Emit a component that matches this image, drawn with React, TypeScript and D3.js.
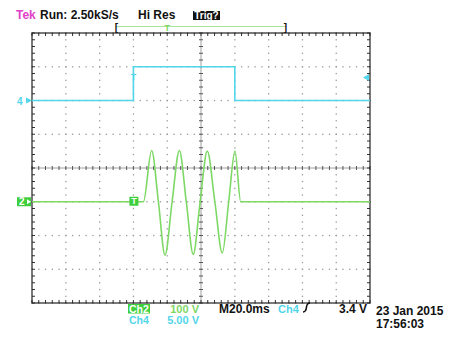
import React from 'react';
import * as d3 from 'd3';

// Ch2 trace (green): time in ms, volts (100 V/div)
const ch2Time = [-100, -34.1, -29.2, -25.2, -21.3, -17.1, -12.8, -8.7, -4.6, -0.5, 3.7, 8.2, 12.6, 16.4, 20.1, 23.5, 100];
const ch2Volts = [0, 0, 152, 0, -158, 0, 152, 0, -156, 0, 150, 0, -152, 0, 150, 0, 0];

// Ch4 trace (cyan): step levels in volts (5 V/div)
const ch4Time = [-100, -40, 20, 100];
const ch4Volts = [0, 5, 0, 0];

const trigLevel = 3.4;
const trigTime = -40;
const recordStart = -50;
const recordEnd = 50;
const recordTrig = -20;

const GREEN = '#7ed866';
const CYAN = '#52d6ea';
const FONT = '"Liberation Sans", Arial, sans-serif';

const App: React.FC = () => {
  const left = 32, right = 370, top = 33, bottom = 303;
  const x = d3.scaleLinear().domain([-100, 100]).range([left, right]);
  // ch2 offset -1 div, ch4 offset +2 div
  const y2 = d3.scaleLinear().domain([-300, 500]).range([bottom, top]);
  const y4 = d3.scaleLinear().domain([-30, 10]).range([bottom, top]);
  const gy = d3.scaleLinear().domain([-4, 4]).range([bottom, top]);
  const gx = d3.scaleLinear().domain([-5, 5]).range([left, right]);

  const ch2Data = ch2Time.map((t, i) => ({ t, v: ch2Volts[i] }));
  const ch4Data = ch4Time.map((t, i) => ({ t, v: ch4Volts[i] }));

  const line2 = d3.line<{ t: number; v: number }>()
    .x(d => x(d.t)).y(d => y2(d.v)).curve(d3.curveMonotoneX);
  const line4 = d3.line<{ t: number; v: number }>()
    .x(d => x(d.t)).y(d => y4(d.v)).curve(d3.curveStepAfter);

  const majors = d3.range(-4, 5);
  const majorsX = d3.range(-4, 5);
  const minorX = d3.range(-5, 5.001, 0.2);
  const minorY = d3.range(-4, 4.001, 0.2);

  const dots: JSX.Element[] = [];
  majors.forEach(r => {
    if (r === 0) return;
    minorX.forEach((c, j) => dots.push(
      <rect key={`h${r}-${j}`} x={gx(c) - 0.6} y={gy(r) - 0.6} width={1.3} height={1.3} fill="#999" />
    ));
  });
  majorsX.forEach(c => {
    if (c === 0) return;
    minorY.forEach((r, j) => dots.push(
      <rect key={`v${c}-${j}`} x={gx(c) - 0.6} y={gy(r) - 0.6} width={1.3} height={1.3} fill="#999" />
    ));
  });

  const ticks: JSX.Element[] = [];
  minorX.forEach((c, j) => {
    ticks.push(<line key={`tt${j}`} x1={gx(c)} x2={gx(c)} y1={top} y2={top + 3} stroke="#333" />);
    ticks.push(<line key={`tb${j}`} x1={gx(c)} x2={gx(c)} y1={bottom - 3} y2={bottom} stroke="#333" />);
    ticks.push(<line key={`tc${j}`} x1={gx(c)} x2={gx(c)} y1={gy(0) - 2} y2={gy(0) + 2} stroke="#555" />);
  });
  minorY.forEach((r, j) => {
    ticks.push(<line key={`tl${j}`} x1={left} x2={left + 3} y1={gy(r)} y2={gy(r)} stroke="#333" />);
    ticks.push(<line key={`tr${j}`} x1={right - 3} x2={right} y1={gy(r)} y2={gy(r)} stroke="#333" />);
    ticks.push(<line key={`tm${j}`} x1={gx(0) - 2} x2={gx(0) + 2} y1={gy(r)} y2={gy(r)} stroke="#555" />);
  });

  const base2 = y2(0);
  const base4 = y4(0);
  const lvl = y4(trigLevel);

  return (
    <svg width={450} height={339} style={{ position: 'absolute', left: 0, top: 0, background: '#fff' }}
      fontFamily={FONT} fontWeight="bold" fontSize={12}>
      <rect x={0} y={0} width={450} height={339} fill="#fff" />
      {/* header */}
      <text x={16} y={18.5} fill="#e040c8">Tek</text>
      <text x={40} y={18.5} fill="#111">Run: 2.50kS/s</text>
      <text x={138} y={18.5} fill="#111">Hi Res</text>
      <rect x={193} y={11} width={27} height={9} fill="#111" />
      <text x={206.5} y={19} fill="#fff" textAnchor="middle" fontSize={10}>Trig?</text>
      {/* record bar */}
      <line x1={x(recordStart)} x2={x(recordEnd)} y1={26.5} y2={26.5} stroke="#a8e49a" strokeWidth={1} />
      <text x={x(recordStart)} y={30.5} fill="#111" textAnchor="middle" fontSize={10}>[</text>
      <text x={x(recordEnd)} y={30.5} fill="#111" textAnchor="middle" fontSize={10}>]</text>
      <text x={x(recordTrig)} y={30.5} fill={GREEN} textAnchor="middle" fontSize={9}>T</text>

      {/* graticule */}
      {dots}
      <line x1={left} x2={right} y1={gy(0)} y2={gy(0)} stroke="#888" strokeWidth={0.8} />
      <line x1={gx(0)} x2={gx(0)} y1={top} y2={bottom} stroke="#888" strokeWidth={0.8} />
      {ticks}
      <rect x={left} y={top} width={right - left} height={bottom - top} fill="none" stroke="#222" strokeWidth={1.2} />

      {/* traces */}
      <path d={line4(ch4Data) || ''} fill="none" stroke={CYAN} strokeWidth={1.6} />
      <path d={line2(ch2Data) || ''} fill="none" stroke={GREEN} strokeWidth={1.6} />

      {/* channel markers */}
      <text x={17} y={base4 + 4} fill={CYAN} fontSize={10}>4</text>
      <path d={`M${left - 6},${base4 - 3} L${left},${base4} L${left - 6},${base4 + 3} Z`} fill={CYAN} />
      <rect x={17} y={base2 - 4.5} width={14} height={9} fill="#3ecf3e" />
      <text x={19} y={base2 + 3.5} fill="#fff" fontSize={10}>2</text>
      <path d={`M${left - 5},${base2 - 2.5} L${left - 1},${base2} L${left - 5},${base2 + 2.5} Z`} fill="#fff" />
      <path d={`M${right - 1},${lvl - 3.5} L${right - 7},${lvl} L${right - 1},${lvl + 3.5} Z`} fill={CYAN} />
      <text x={x(trigTime)} y={80} fill={CYAN} textAnchor="middle" fontSize={9}>T</text>
      <rect x={x(trigTime) - 4} y={base2 - 5} width={9} height={9} fill="#3ecf3e" />
      <text x={x(trigTime) + 0.5} y={base2 + 2.5} fill="#fff" textAnchor="middle" fontSize={9}>T</text>

      {/* footer */}
      <rect x={128} y={304} width={22} height={9.5} fill="#3ecf3e" />
      <text x={129} y={312.5} fill="#fff" fontSize={10.5}>Ch2</text>
      <text x={199} y={312.5} fill={GREEN} textAnchor="end" fontSize={11}>100 V</text>
      <text x={219} y={312.5} fill="#111">M20.0ms</text>
      <text x={278} y={312.5} fill={CYAN} fontSize={11}>Ch4</text>
      <path d="M303,312 Q306,312 306.5,307 Q307,303 310,303" fill="none" stroke="#111" strokeWidth={1.6} />
      <text x={367} y={312.5} fill="#111" textAnchor="end">3.4 V</text>
      <text x={129} y={323.5} fill={CYAN} fontSize={10.5}>Ch4</text>
      <text x={199} y={323.5} fill={CYAN} textAnchor="end" fontSize={11}>5.00 V</text>
      <text x={376} y={315} fill="#111">23 Jan 2015</text>
      <text x={376} y={328} fill="#111">17:56:03</text>
    </svg>
  );
};

export default App;
